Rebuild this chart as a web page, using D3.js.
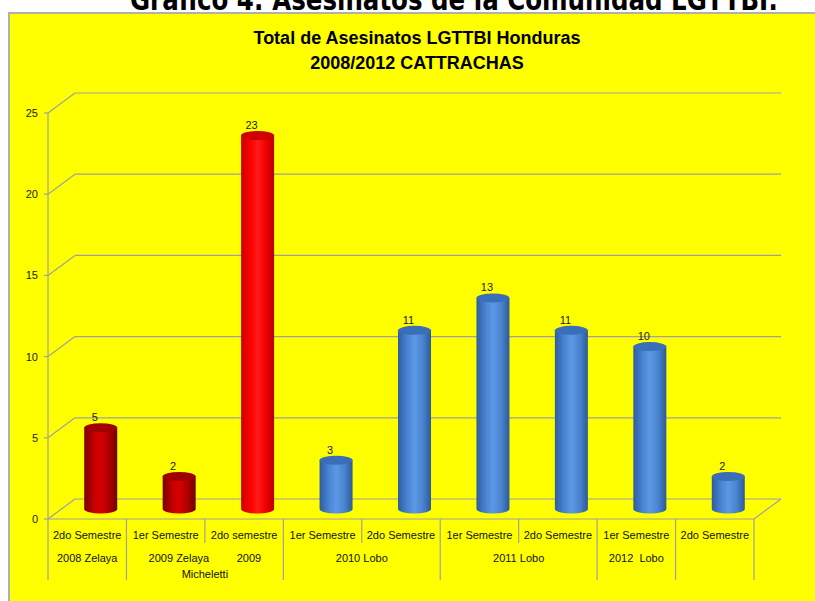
<!DOCTYPE html>
<html><head><meta charset="utf-8">
<script src="https://cdn.jsdelivr.net/npm/d3@7"></script>
<style>body{margin:0;background:#fff}svg{display:block}</style>
</head><body>
<svg id="c" width="815" height="601"></svg>
<script>
const categories = ["2do Semestre","1er Semestre","2do semestre","1er Semestre","2do Semestre","1er Semestre","2do Semestre","1er Semestre","2do Semestre"];
const values = [5,2,23,3,11,13,11,10,2];
const barColors = ["darkred","darkred","red","blue","blue","blue","blue","blue","blue"];
const groupLabels = [["2008 Zelaya"],["2009 Zelaya\u00a0\u00a0\u00a0\u00a0\u00a0\u00a0\u00a0\u00a0\u00a02009","Micheletti"],["2010 Lobo"],["2011 Lobo"],["2012\u00a0\u00a0Lobo"],[""]];
const groupSpans = [1,2,2,2,1,1];
const yTicks = [0,5,10,15,20,25];
const heading = "Gráfico 4: Asesinatos de la Comunidad LGTTBI:";
const titleLines = ["Total de Asesinatos LGTTBI Honduras","2008/2012 CATTRACHAS"];

const svg = d3.select("#c");
const defs = svg.append("defs");
const font = "'Liberation Sans', Arial, sans-serif";

// panel
svg.append("rect").attr("x",8).attr("y",12).attr("width",820).attr("height",600).attr("fill","#b0b0b0");
svg.append("rect").attr("x",10).attr("y",14).attr("width",820).attr("height",600).attr("fill","#ffff00");

// heading (cut off at top, as in the reference)
svg.append("text").attr("x",130).attr("y",10).attr("textLength",648).attr("lengthAdjust","spacingAndGlyphs")
  .attr("font-family","'DejaVu Sans', sans-serif").attr("font-weight","bold").attr("font-size",30)
  .attr("fill","#000").text(heading);

// titles
titleLines.forEach((t,i)=>{
  svg.append("text").attr("x",417).attr("y",44+i*25).attr("text-anchor","middle")
    .attr("font-family",font).attr("font-weight","bold").attr("font-size",18).attr("fill","#000").text(t);
});

const x = d3.scaleBand().domain(d3.range(categories.length)).range([48,754]);
const y = d3.scaleLinear().domain([0,25]).range([519,113]);
const DX = 27, DY = -20;
const grid = "#a0a0a0";

// gridlines: back wall + side wall diagonals
yTicks.forEach(v=>{
  const yy = y(v);
  svg.append("line").attr("x1",x.range()[0]).attr("y1",yy).attr("x2",x.range()[0]+DX).attr("y2",yy+DY).attr("stroke",grid).attr("stroke-width",1.2);
  svg.append("line").attr("x1",x.range()[0]+DX).attr("y1",yy+DY).attr("x2",x.range()[1]+DX).attr("y2",yy+DY).attr("stroke",grid).attr("stroke-width",1.2);
});
// floor front edge & right edge
svg.append("line").attr("x1",48).attr("y1",y(0)).attr("x2",754).attr("y2",y(0)).attr("stroke",grid).attr("stroke-width",1.2);
svg.append("line").attr("x1",754).attr("y1",y(0)).attr("x2",754+DX).attr("y2",y(0)+DY).attr("stroke",grid).attr("stroke-width",1.2);

// y axis
svg.append("line").attr("x1",48).attr("y1",y(25)).attr("x2",48).attr("y2",y(0)).attr("stroke",grid).attr("stroke-width",1.2);
yTicks.forEach(v=>{
  svg.append("line").attr("x1",44).attr("y1",y(v)).attr("x2",48).attr("y2",y(v)).attr("stroke",grid).attr("stroke-width",1.2);
  svg.append("text").attr("x",38).attr("y",y(v)+4).attr("text-anchor","end")
    .attr("font-family",font).attr("font-size",11).attr("fill","#222").text(v);
});

// gradients
const palettes = {
  darkred: {stops:["#7a0000","#c40000","#d80000","#b00000","#6e0000"], top:"#a00000"},
  red: {stops:["#c80000","#ff0000","#ff1a1a","#f00000","#b80000"], top:"#d00000"},
  blue: {stops:["#2f5d9e","#4a86d4","#5b98e6","#4a84cf","#2c5a98"], top:"#3a6fb8"}
};
Object.entries(palettes).forEach(([k,p])=>{
  const g = defs.append("linearGradient").attr("id","g_"+k).attr("x1",0).attr("x2",1).attr("y1",0).attr("y2",0);
  const offs=[0,0.3,0.5,0.75,1];
  p.stops.forEach((c,i)=>g.append("stop").attr("offset",offs[i]).attr("stop-color",c));
});

// cylinders
const bw = 33, rx = bw/2, ry = 4.5;
values.forEach((v,i)=>{
  const cx = x(i)+x.bandwidth()/2 + DX/2;
  const yb = y(0) + DY/2;
  const yt = y(v) + DY/2;
  const p = palettes[barColors[i]];
  const g = svg.append("g");
  g.append("path").attr("d",
    `M${cx-rx},${yt} L${cx-rx},${yb} A${rx},${ry} 0 0 0 ${cx+rx},${yb} L${cx+rx},${yt} Z`)
    .attr("fill",`url(#g_${barColors[i]})`);
  g.append("ellipse").attr("cx",cx).attr("cy",yt).attr("rx",rx).attr("ry",ry).attr("fill",p.top);
  svg.append("text").attr("x",cx-6).attr("y",yt-ry-2).attr("text-anchor","middle")
    .attr("font-family",font).attr("font-size",11).attr("fill","#222").text(v);
});

// category table
categories.forEach((c,i)=>{
  svg.append("text").attr("x",x(i)+x.bandwidth()/2).attr("y",539).attr("text-anchor","middle")
    .attr("font-family",font).attr("font-size",11).attr("fill","#111").text(c);
});
let start = 0;
const fullBounds = [0];
groupSpans.forEach((s,gi)=>{
  const x0 = x(start), x1 = x(start+s-1)+x.bandwidth();
  groupLabels[gi].forEach((t,li)=>{
    svg.append("text").attr("x",(x0+x1)/2).attr("y",562+li*16).attr("text-anchor","middle")
      .attr("font-family",font).attr("font-size",11).attr("fill","#111").text(t);
  });
  for(let k=1;k<s;k++){
    const xx = x(start+k);
    svg.append("line").attr("x1",xx).attr("y1",y(0)).attr("x2",xx).attr("y2",543).attr("stroke",grid).attr("stroke-width",1.2);
  }
  start += s;
  fullBounds.push(start);
});
fullBounds.forEach(b=>{
  const xx = b<categories.length ? x(b) : x.range()[1];
  svg.append("line").attr("x1",xx).attr("y1",y(0)).attr("x2",xx).attr("y2",580).attr("stroke",grid).attr("stroke-width",1.2);
});
</script>
</body></html>
